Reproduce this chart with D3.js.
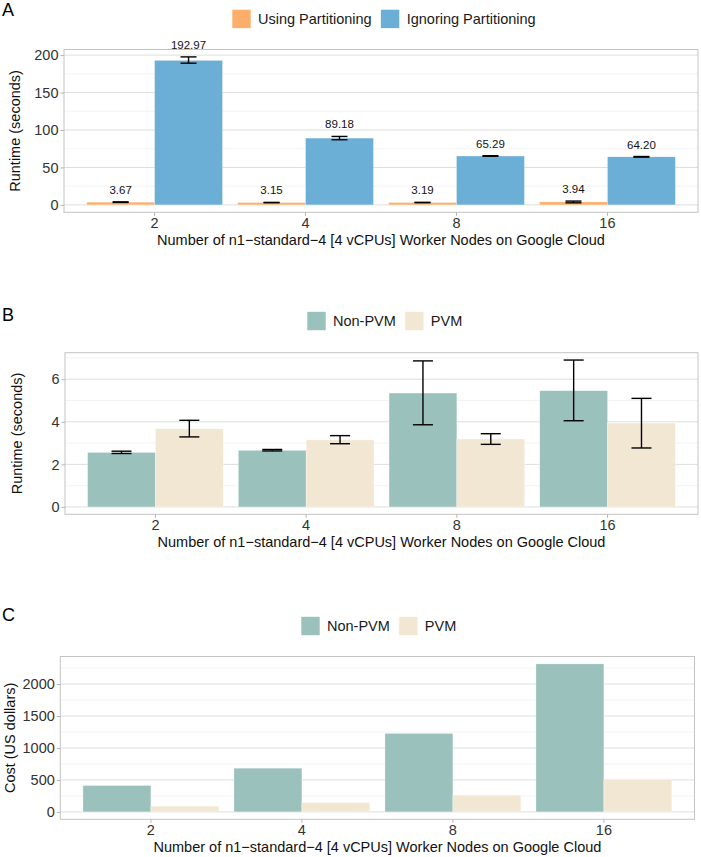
<!DOCTYPE html>
<html>
<head>
<meta charset="utf-8">
<script src="https://cdn.jsdelivr.net/npm/d3@7"></script>
<style>
  html, body { margin: 0; padding: 0; background: #ffffff; }
  svg { display: block; font-family: "Liberation Sans", Arial, Helvetica, sans-serif; }
</style>
</head>
<body>
<svg id="chart" width="701" height="857"></svg>
<script>
// ---------------- data ----------------
const nodes = ["2", "4", "8", "16"];

// Panel A: runtime, partitioning
const usingPartitioning   = [3.67, 3.15, 3.19, 3.94];
const usingPartitioningLo = [3.29, 2.97, 2.94, 2.77];
const usingPartitioningHi = [4.07, 3.35, 3.44, 5.10];
const ignoringPartitioning   = [192.97, 89.18, 65.29, 64.20];
const ignoringPartitioningLo = [189.2, 87.0, 64.9, 63.8];
const ignoringPartitioningHi = [197.6, 91.4, 65.7, 64.6];
const ticksA = [0, 50, 100, 150, 200];

// Panel B: runtime, Non-PVM vs PVM
const nonPvmRuntime   = [2.56, 2.66, 5.35, 5.46];
const nonPvmRuntimeLo = [2.51, 2.63, 3.86, 4.05];
const nonPvmRuntimeHi = [2.62, 2.70, 6.86, 6.90];
const pvmRuntime   = [3.67, 3.15, 3.19, 3.94];
const pvmRuntimeLo = [3.29, 2.97, 2.94, 2.77];
const pvmRuntimeHi = [4.07, 3.35, 3.44, 5.10];
const ticksB = [0, 2, 4, 6];

// Panel C: cost
const nonPvmCost = [413, 684, 1228, 2315];
const pvmCost    = [90, 148, 262, 501];
const ticksC = [0, 500, 1000, 1500, 2000];

const xTitle = "Number of n1\u2212standard\u22124 [4 vCPUs] Worker Nodes on Google Cloud";

// ---------------- drawing ----------------
const svg = d3.select("#chart");
const C_ORANGE = "#fdae6b", C_BLUE = "#6baed6", C_TEAL = "#9bc1bc", C_CREAM = "#f2e7d3";

function panel(cfg) {
  const g = svg.append("g");
  const { left, right, top, bottom } = cfg.box;

  // panel letter
  g.append("text").attr("x", 2).attr("y", cfg.letterY)
    .attr("font-size", 18).attr("fill", "#000").text(cfg.letter);

  // legend
  let lx = cfg.legend.x;
  cfg.series.forEach((s, i) => {
    g.append("rect").attr("x", lx).attr("y", cfg.legend.y).attr("width", 19).attr("height", 19)
      .attr("fill", s.color).attr("stroke", "#ffffff").attr("stroke-width", 0.6);
    const t = g.append("text").attr("x", lx + 26).attr("y", cfg.legend.y + 14.5)
      .attr("font-size", 14.5).attr("fill", "#1a1a1a").text(s.name);
    lx += 26 + t.node().getComputedTextLength() + cfg.legend.gap;
  });

  const m = d3.max(cfg.series.flatMap(s => s.hi || s.values));
  const y = d3.scaleLinear().domain([-0.05 * m, 1.05 * m]).range([bottom, top]);
  const x = d3.scaleBand().domain(nodes).range([left, right]).paddingInner(0.1).paddingOuter(0.15);
  const xs = d3.scaleBand().domain(cfg.series.map(s => s.name)).range([0, x.bandwidth()]);

  // grid (minor + major)
  const step = cfg.ticks[1] - cfg.ticks[0];
  const minor = d3.range(step / 2, y.domain()[1], step);
  g.selectAll(".minor").data(minor).join("line")
    .attr("x1", left).attr("x2", right).attr("y1", d => y(d)).attr("y2", d => y(d))
    .attr("stroke", "#ebebeb").attr("stroke-width", 0.6);
  g.selectAll(".major").data(cfg.ticks).join("line")
    .attr("x1", left).attr("x2", right).attr("y1", d => y(d)).attr("y2", d => y(d))
    .attr("stroke", "#dedede").attr("stroke-width", 1);

  // bars
  cfg.series.forEach(s => {
    g.selectAll(null).data(nodes).join("rect")
      .attr("x", d => x(d) + xs(s.name))
      .attr("width", xs.bandwidth())
      .attr("y", (d, i) => y(s.values[i]))
      .attr("height", (d, i) => y(0) - y(s.values[i]))
      .attr("fill", s.color).attr("stroke", "#ffffff").attr("stroke-width", 0.5).attr("stroke-opacity", 0.6);
  });

  // error bars
  cfg.series.forEach(s => {
    if (!s.lo) return;
    const cw = cfg.capWidth / 2;
    nodes.forEach((d, i) => {
      const cx = x(d) + xs(s.name) + xs.bandwidth() / 2;
      const eg = g.append("g").attr("stroke", "#000").attr("stroke-width", 1.4).attr("fill", "none");
      eg.append("line").attr("x1", cx).attr("x2", cx).attr("y1", y(s.lo[i])).attr("y2", y(s.hi[i]));
      eg.append("line").attr("x1", cx - cw).attr("x2", cx + cw).attr("y1", y(s.lo[i])).attr("y2", y(s.lo[i]));
      eg.append("line").attr("x1", cx - cw).attr("x2", cx + cw).attr("y1", y(s.hi[i])).attr("y2", y(s.hi[i]));
    });
  });

  // value labels
  if (cfg.valueLabels) {
    cfg.series.forEach(s => {
      g.selectAll(null).data(nodes).join("text")
        .attr("x", d => x(d) + xs(s.name) + xs.bandwidth() / 2)
        .attr("y", (d, i) => y(s.hi[i]) - 8)
        .attr("text-anchor", "middle").attr("font-size", 11.5).attr("fill", "#111")
        .text((d, i) => s.values[i].toFixed(2));
    });
  }

  // panel border
  g.append("rect").attr("x", left).attr("y", top).attr("width", right - left).attr("height", bottom - top)
    .attr("fill", "none").attr("stroke", "#c4c4c4").attr("stroke-width", 1);

  // axes
  const ya = g.append("g").attr("transform", `translate(${left},0)`)
    .call(d3.axisLeft(y).tickValues(cfg.ticks).tickFormat(d3.format("d")).tickSize(3.5).tickPadding(2));
  ya.select(".domain").remove();
  ya.selectAll(".tick line").attr("stroke", "#b3b3b3");
  ya.selectAll(".tick text").attr("font-size", 14.5).attr("fill", "#333").attr("font-family", null);

  const xa = g.append("g").attr("transform", `translate(0,${bottom})`)
    .call(d3.axisBottom(x).tickSize(3.5).tickPadding(2));
  xa.select(".domain").remove();
  xa.selectAll(".tick line").attr("stroke", "#b3b3b3");
  xa.selectAll(".tick text").attr("font-size", 14.5).attr("fill", "#333").attr("font-family", null);

  // axis titles
  g.append("text").attr("x", (left + right) / 2).attr("y", bottom + 33)
    .attr("text-anchor", "middle").attr("font-size", 14.5).attr("fill", "#111").text(xTitle);
  g.append("text").attr("transform", `translate(${cfg.yTitleX},${(top + bottom) / 2}) rotate(-90)`)
    .attr("text-anchor", "middle").attr("dy", "0.35em").attr("font-size", 14.5).attr("fill", "#111").text(cfg.yTitle);
}

panel({
  letter: "A", letterY: 16,
  box: { left: 64, right: 698, top: 49.5, bottom: 212.3 },
  legend: { x: 232, y: 9.3, gap: 9 },
  series: [
    { name: "Using Partitioning", color: C_ORANGE, values: usingPartitioning, lo: usingPartitioningLo, hi: usingPartitioningHi },
    { name: "Ignoring Partitioning", color: C_BLUE, values: ignoringPartitioning, lo: ignoringPartitioningLo, hi: ignoringPartitioningHi }
  ],
  ticks: ticksA, capWidth: 16, valueLabels: true,
  yTitle: "Runtime (seconds)", yTitleX: 15
});

panel({
  letter: "B", letterY: 321,
  box: { left: 65, right: 698, top: 352.7, bottom: 514.3 },
  legend: { x: 307, y: 311.5, gap: 9 },
  series: [
    { name: "Non-PVM", color: C_TEAL, values: nonPvmRuntime, lo: nonPvmRuntimeLo, hi: nonPvmRuntimeHi },
    { name: "PVM", color: C_CREAM, values: pvmRuntime, lo: pvmRuntimeLo, hi: pvmRuntimeHi }
  ],
  ticks: ticksB, capWidth: 20, valueLabels: false,
  yTitle: "Runtime (seconds)", yTitleX: 17
});

panel({
  letter: "C", letterY: 621,
  box: { left: 60.3, right: 694.5, top: 656.5, bottom: 819.3 },
  legend: { x: 301, y: 616.5, gap: 9 },
  series: [
    { name: "Non-PVM", color: C_TEAL, values: nonPvmCost },
    { name: "PVM", color: C_CREAM, values: pvmCost }
  ],
  ticks: ticksC, capWidth: 0, valueLabels: false,
  yTitle: "Cost (US dollars)", yTitleX: 10
});
</script>
</body>
</html>
